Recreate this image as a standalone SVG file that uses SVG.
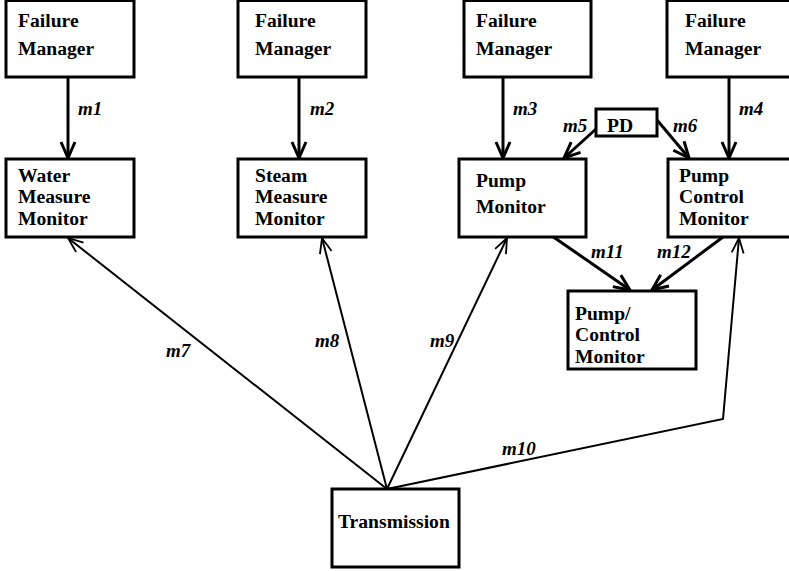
<svg xmlns="http://www.w3.org/2000/svg" width="789" height="571" viewBox="0 0 789 571">
<style>
.box{fill:#fff;stroke:#000;stroke-width:3}
.t{font-family:"Liberation Serif","Times New Roman",serif;font-weight:bold;font-size:19.6px;fill:#000}
.l{font-family:"Liberation Serif","Times New Roman",serif;font-weight:bold;font-style:italic;font-size:19px;fill:#000}
.thick{fill:none;stroke:#000;stroke-width:3}
.thin{fill:none;stroke:#000;stroke-width:2}
</style>
<defs>
<marker id="ah" markerUnits="userSpaceOnUse" viewBox="0 0 20 20" markerWidth="20" markerHeight="20" refX="18" refY="10" orient="auto">
<path d="M2,3 L18,10 L2,17" fill="none" stroke="#000" stroke-width="3"/>
</marker>
<marker id="ahs" markerUnits="userSpaceOnUse" viewBox="0 0 20 20" markerWidth="20" markerHeight="20" refX="18" refY="10" orient="auto">
<path d="M3,4 L18,10 L3,16" fill="none" stroke="#000" stroke-width="1.8"/>
</marker>
</defs>
<rect width="789" height="571" fill="#fff"/>
<g id="connectors">
<line class="thick" x1="68" y1="77" x2="68" y2="158" marker-end="url(#ah)"/>
<line class="thick" x1="299" y1="77" x2="299" y2="158" marker-end="url(#ah)"/>
<line class="thick" x1="503" y1="77" x2="503" y2="158" marker-end="url(#ah)"/>
<line class="thick" x1="729" y1="77" x2="729" y2="158" marker-end="url(#ah)"/>
<line class="thick" x1="596" y1="129" x2="564" y2="158" marker-end="url(#ah)"/>
<line class="thick" x1="657" y1="120" x2="689" y2="158" marker-end="url(#ah)"/>
<line class="thick" x1="552" y1="236" x2="630" y2="290" marker-end="url(#ah)"/>
<line class="thick" x1="723" y1="237" x2="652" y2="290" marker-end="url(#ah)"/>
<line class="thin" x1="387" y1="489" x2="68" y2="238" marker-end="url(#ahs)"/>
<line class="thin" x1="387" y1="489" x2="322" y2="238" marker-end="url(#ahs)"/>
<line class="thin" x1="387" y1="489" x2="507" y2="238" marker-end="url(#ahs)"/>
<polyline class="thin" points="387,489 723,419 739,238" marker-end="url(#ahs)"/>
<text class="l" x="78" y="115">m1</text>
<text class="l" x="310" y="115">m2</text>
<text class="l" x="513" y="115">m3</text>
<text class="l" x="739" y="115">m4</text>
<text class="l" x="563" y="132">m5</text>
<text class="l" x="673" y="132">m6</text>
<text class="l" x="166" y="357">m7</text>
<text class="l" x="315" y="347">m8</text>
<text class="l" x="430" y="347">m9</text>
<text class="l" x="502" y="455">m10</text>
<text class="l" x="591" y="258">m11</text>
<text class="l" x="657" y="258">m12</text>
</g>
<g id="fm1"><rect class="box" x="6" y="0.5" width="128" height="76.5"/><text class="t" x="18" y="27">Failure</text><text class="t" x="18" y="55">Manager</text></g>
<g id="fm2"><rect class="box" x="238" y="0.5" width="128" height="76.5"/><text class="t" x="255" y="27">Failure</text><text class="t" x="255" y="55">Manager</text></g>
<g id="fm3"><rect class="box" x="464" y="0.5" width="127" height="76.5"/><text class="t" x="476" y="27">Failure</text><text class="t" x="476" y="55">Manager</text></g>
<g id="fm4"><rect class="box" x="667" y="0.5" width="128" height="76.5"/><text class="t" x="685" y="27">Failure</text><text class="t" x="685" y="55">Manager</text></g>
<g id="wmm"><rect class="box" x="6" y="159" width="128" height="78"/><text class="t" x="18" y="182">Water</text><text class="t" x="18" y="203">Measure</text><text class="t" x="18" y="225">Monitor</text></g>
<g id="smm"><rect class="box" x="238" y="159" width="128" height="78"/><text class="t" x="255" y="182">Steam</text><text class="t" x="255" y="203">Measure</text><text class="t" x="255" y="225">Monitor</text></g>
<g id="pm"><rect class="box" x="459" y="159" width="127" height="78"/><text class="t" x="476" y="187">Pump</text><text class="t" x="476" y="213">Monitor</text></g>
<g id="pcm"><rect class="box" x="668" y="159" width="128" height="78"/><text class="t" x="679" y="182">Pump</text><text class="t" x="679" y="203">Control</text><text class="t" x="679" y="225">Monitor</text></g>
<g id="pd"><rect class="box" x="596" y="109" width="61" height="27"/><text class="t" x="607" y="132">PD</text></g>
<g id="pcm2"><rect class="box" x="568" y="291" width="128" height="78"/><text class="t" x="575" y="320">Pump/</text><text class="t" x="575" y="341">Control</text><text class="t" x="575" y="363">Monitor</text></g>
<g id="trans"><rect class="box" x="332" y="489" width="127" height="78"/><text class="t" x="338" y="528">Transmission</text></g>
</svg>
